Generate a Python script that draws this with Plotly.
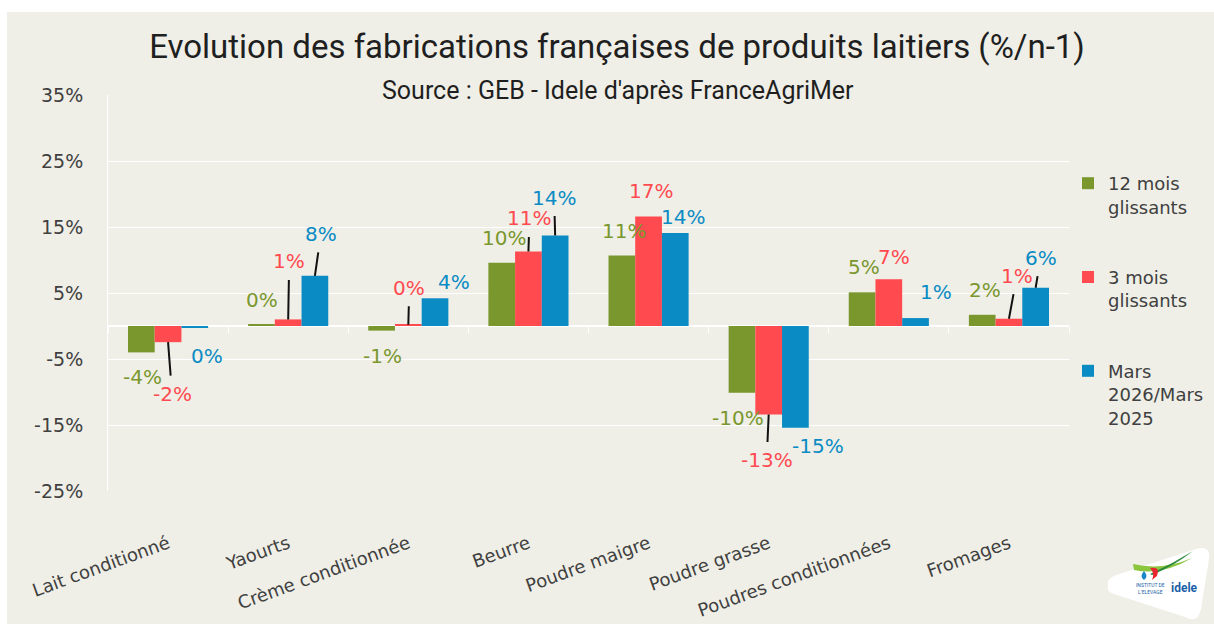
import math
import plotly.graph_objects as go

# ---- data ---------------------------------------------------------------
categories = ["Lait conditionné", "Yaourts", "Crème conditionnée", "Beurre",
              "Poudre maigre", "Poudre grasse", "Poudres conditionnées", "Fromages"]
series_names = ["12 mois<br>glissants", "3 mois<br>glissants", "Mars<br>2026/Mars<br>2025"]
glissant_12 = [-4.0, 0.2, -0.7, 9.6, 10.7, -10.1, 5.1, 1.7]
glissant_3 = [-2.45, 1.0, 0.2, 11.3, 16.6, -13.4, 7.1, 1.1]
mars_sur_mars = [-0.3, 7.6, 4.2, 13.7, 14.1, -15.4, 1.2, 5.8]
y_ticks = [-25, -15, -5, 5, 15, 25, 35]
y_tick_labels = [f"{v}%" for v in y_ticks]

# ---- style --------------------------------------------------------------
W, H = 1214, 624
ML, MR, MT, MB = 108, 145, 95, 133
PW, PH = W - ML - MR, H - MT - MB
BG = "#efefe7"
COLORS = ["#7a972e", "#ff4a50", "#0a8bc4"]
TXT = "#404040"
BARGAP = 0.333
LABEL_FONT = "DejaVu Sans"
HEAD_FONT = "Roboto"

# label placement per series: (dx px, dy px above bar end, leader line)
label_offsets = [
    [(1, -25, False), (1, 25, False), (1, -25, False), (2, 25, False),
     (2, 24, False), (-4, -25, False), (2, 25, False), (3, 25, False)],
    [(4, -52, True), (1, 58, True), (1, 37, True), (1, 33, True),
     (2, 25, False), (-2, -46, True), (5, 22, False), (8, 43, True)],
    [(12, -28, False), (6, 42, True), (19, 16, False), (-1, 38, True),
     (8, 16, False), (23, -18, False), (20, 26, False), (5, 30, True)],
]


def px(x):
    return (x - ML) / PW


def py(y):
    return (H - MB - y) / PH


def pct(v):
    r = int(math.floor(abs(v) + 0.5))
    sign = "-" if (v < 0 and r != 0) else ""
    return f"{sign}{r}%"


series = [glissant_12, glissant_3, mars_sur_mars]

fig = go.Figure()
for k, (name, vals) in enumerate(zip(series_names, series)):
    fig.add_trace(go.Bar(
        x=categories, y=vals, name=name,
        marker=dict(color=COLORS[k], line=dict(width=0)),
        legendgroup=f"g{k}", hoverinfo="skip",
    ))

# helper trace carrying the category axis drawn at zero
fig.add_trace(go.Scatter(x=[], y=[], xaxis="x2", yaxis="y",
                         showlegend=False, hoverinfo="skip"))

annotations = []
bar_step = (1 - BARGAP) / 3
for k, vals in enumerate(series):
    for i, v in enumerate(vals):
        dx, dy, leader = label_offsets[k][i]
        common = dict(
            x=i + (k - 1) * bar_step, y=v, xref="x", yref="y",
            text=pct(v), font=dict(family=LABEL_FONT, size=20, color=COLORS[k]),
        )
        if leader:
            annotations.append(dict(
                common, showarrow=True, ax=dx, ay=-dy, arrowhead=0,
                arrowwidth=2, arrowcolor="#111111", standoff=0, startstandoff=5,
            ))
        else:
            annotations.append(dict(common, showarrow=False, xshift=dx, yshift=dy))

# subtitle
annotations.append(dict(
    text="Source : GEB - Idele d'après FranceAgriMer",
    xref="paper", yref="paper", x=px(618), y=py(90), xanchor="center", yanchor="middle",
    showarrow=False, font=dict(family=HEAD_FONT, size=25, color="#1f1f1f"),
))

# logo lettering
annotations.append(dict(
    text="INSTITUT DE<br>L'ELEVAGE", xref="paper", yref="paper",
    x=px(1167), y=py(588), xanchor="right", yanchor="middle", showarrow=False,
    font=dict(family=HEAD_FONT, size=5, color="#1b5fa8"),
))
annotations.append(dict(
    text="<b>idele</b>", xref="paper", yref="paper",
    x=px(1169), y=py(588), xanchor="left", yanchor="middle", showarrow=False,
    font=dict(family=HEAD_FONT, size=12, color="#1b5fa8"),
))


def path(points_cmds):
    out = []
    for cmd, pts in points_cmds:
        coords = " ".join(f"{px(x):.5f},{py(y):.5f}" for x, y in pts)
        out.append(f"{cmd} {coords}")
    return " ".join(out) + " Z"


shapes = [
    # page background
    dict(type="rect", xref="paper", yref="paper", layer="below",
         x0=px(7), x1=px(W + 5), y0=py(12), y1=py(H + 5),
         fillcolor=BG, line=dict(width=0)),
    # logo badge
    dict(type="path", xref="paper", yref="paper", layer="above",
         path=path([("M", [(1108, 586)]), ("Q", [(1106, 579), (1116, 575)]),
                    ("L", [(1196, 549)]), ("Q", [(1211, 545), (1209, 559)]),
                    ("L", [(1201, 609)]), ("Q", [(1198, 624), (1185, 617)]),
                    ("L", [(1114, 594)]), ("Q", [(1106, 591), (1108, 586)])]),
         fillcolor="white", line=dict(width=0)),
    dict(type="path", xref="paper", yref="paper", layer="above",
         path=path([("M", [(1133, 564)]), ("Q", [(1162, 571), (1192, 558)]),
                    ("Q", [(1162, 576), (1134, 570)])]),
         fillcolor="#8cc63e", line=dict(width=0)),
    dict(type="path", xref="paper", yref="paper", layer="above",
         path=path([("M", [(1150, 574)]), ("Q", [(1172, 564), (1193, 551)]),
                    ("Q", [(1174, 566), (1152, 575)])]),
         fillcolor="#2e8b3e", line=dict(width=0)),
    dict(type="path", xref="paper", yref="paper", layer="above",
         path=path([("M", [(1150, 568)]), ("Q", [(1161, 566), (1157, 576)]),
                    ("L", [(1152, 580)]), ("Q", [(1155, 573), (1150, 568)])]),
         fillcolor="#e8262f", line=dict(width=0)),
    dict(type="path", xref="paper", yref="paper", layer="above",
         path=path([("M", [(1144, 571)]), ("Q", [(1149, 577), (1144, 580)]),
                    ("Q", [(1139, 577), (1144, 571)])]),
         fillcolor="#1b86c8", line=dict(width=0)),
]

fig.update_layout(
    width=W, height=H, autosize=False,
    margin=dict(l=ML, r=MR, t=MT, b=MB, pad=0, autoexpand=False),
    paper_bgcolor="white", plot_bgcolor="rgba(0,0,0,0)",
    barmode="group", bargap=BARGAP, bargroupgap=0,
    title=dict(text="Evolution des fabrications françaises de produits laitiers (%/n-1)",
               x=617 / W, xanchor="center", xref="container",
               y=1 - 46 / H, yanchor="middle", yref="container",
               font=dict(family=HEAD_FONT, size=33, color="#1f1f1f")),
    xaxis=dict(type="category", categoryorder="array", categoryarray=categories,
               range=[-0.5, 7.5], showgrid=False, zeroline=False, showline=False,
               automargin=False,
               ticks="", tickangle=-20, ticklabelstandoff=38,
               tickfont=dict(family=LABEL_FONT, size=18, color=TXT)),
    xaxis2=dict(overlaying="x", anchor="free", position=25 / 60,
                range=[-0.5, 7.5], tickmode="array", automargin=False,
                tickvals=[i - 0.5 for i in range(len(categories) + 1)],
                ticks="outside", ticklen=6, tickwidth=1, tickcolor="white",
                showticklabels=False, showgrid=False, zeroline=False, showline=False),
    yaxis=dict(range=[-25, 35], tickmode="array", tickvals=y_ticks, ticktext=y_tick_labels,
               showgrid=True, gridcolor="white", gridwidth=1, automargin=False,
               zeroline=True, zerolinecolor="white", zerolinewidth=1.5,
               showline=True, linecolor="white", linewidth=1,
               ticks="", ticklabelstandoff=20,
               tickfont=dict(family=LABEL_FONT, size=19, color=TXT)),
    legend=dict(x=px(1068), xanchor="left", y=py(165), yanchor="top",
                valign="top", tracegroupgap=44, bgcolor="rgba(0,0,0,0)",
                font=dict(family=LABEL_FONT, size=18, color=TXT)),
    annotations=annotations,
    shapes=shapes,
    showlegend=True,
)

fig.write_html("out.html")
